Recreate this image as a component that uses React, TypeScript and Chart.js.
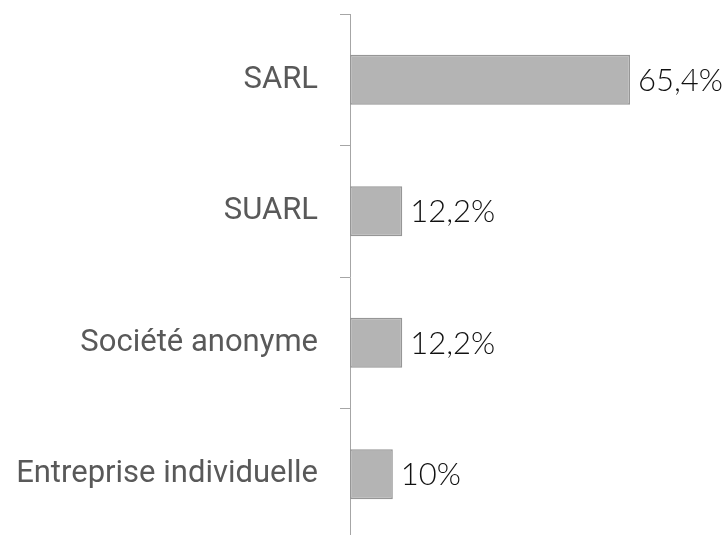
import React, { useEffect, useRef } from "react";
import { Chart, registerables } from "chart.js";

Chart.register(...registerables);

const categories = ["SARL", "SUARL", "Société anonyme", "Entreprise individuelle"];
const values = [65.4, 12.2, 12.2, 10];
const valueLabels = ["65,4%", "12,2%", "12,2%", "10%"];

const valueLabelPlugin = {
  id: "valueLabels",
  afterDatasetsDraw(chart: any) {
    const ctx = chart.ctx;
    const meta = chart.getDatasetMeta(0);
    ctx.save();
    ctx.font = "300 31px Lato";
    ctx.fillStyle = "#111111";
    ctx.textAlign = "left";
    ctx.textBaseline = "middle";
    meta.data.forEach((bar: any, i: number) => {
      ctx.fillText(valueLabels[i], bar.x + 8, bar.y + 1);
    });
    ctx.restore();
  },
};

export default function App() {
  const ref = useRef<HTMLCanvasElement>(null);
  useEffect(() => {
    const chart = new Chart(ref.current!, {
      type: "bar",
      data: {
        labels: categories,
        datasets: [
          {
            data: values,
            backgroundColor: "#b4b4b4",
            borderColor: "#969696",
            borderWidth: 1.5,
            borderSkipped: false,
            categoryPercentage: 1,
            barPercentage: 0.38,
          },
        ],
      },
      options: {
        indexAxis: "y",
        animation: false,
        responsive: true,
        maintainAspectRatio: false,
        layout: { padding: { top: 14, bottom: 5, right: 14, left: 0 } },
        plugins: { legend: { display: false }, tooltip: { enabled: false } },
        scales: {
          x: { display: false, min: 0, max: 85 },
          y: {
            afterFit(scale: any) {
              scale.width = 350;
              scale.paddingTop = 0;
              scale.paddingBottom = 0;
            },
            border: { display: true, color: "#a6a6a6", width: 1 },
            grid: {
              offset: true,
              drawOnChartArea: false,
              drawTicks: true,
              tickLength: 10,
              color: "#a6a6a6",
            },
            ticks: {
              padding: 22,
              color: "#595959",
              font: { family: "Roboto", size: 31 },
            },
          },
        },
      },
      plugins: [valueLabelPlugin],
    });
    return () => chart.destroy();
  }, []);
  return (
    <div style={{ position: "fixed", left: 0, top: 0, width: 728, height: 545 }}>
      <canvas ref={ref} />
    </div>
  );
}
